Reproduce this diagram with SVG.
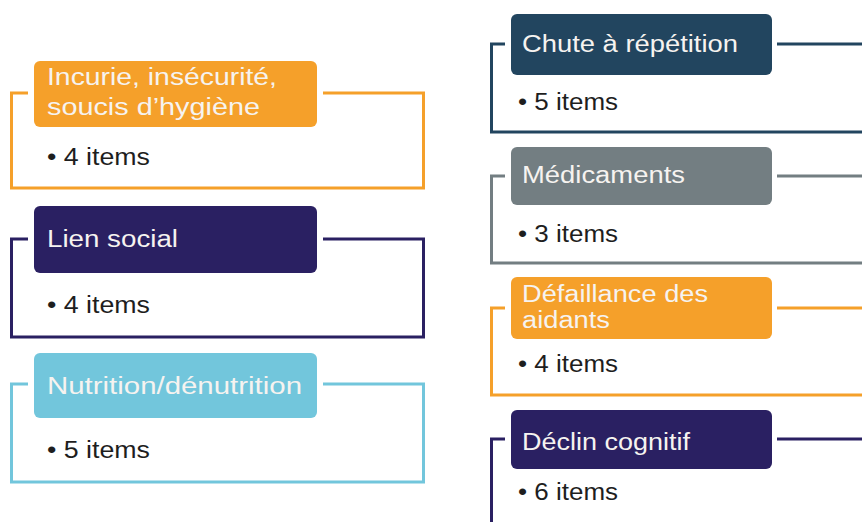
<svg xmlns="http://www.w3.org/2000/svg" width="862" height="522" viewBox="0 0 862 522">
<style>
.frame{fill:none;stroke-width:3;stroke-linejoin:miter}
.hd{stroke:none}
.ht{font-family:"Liberation Sans","DejaVu Sans",sans-serif;font-size:23px;fill:#F6F3F0}
.it{font-family:"Liberation Sans","DejaVu Sans",sans-serif;font-size:23px;fill:#1E1E1E}
.orange{stroke:#F5A02A}
.navy{stroke:#2A2062}
.sky{stroke:#72C6DC}
.steel{stroke:#22455F}
.gray{stroke:#737E82}
</style>
<rect width="862" height="522" fill="#FFFFFF"/>
<g id="connectors"></g>

<g id="node-incurie">
<path class="frame orange" d="M28 93 H11.5 V188 H423.5 V93 H323"/>
<rect class="hd" x="34" y="61" width="283" height="66" rx="6" fill="#F5A02A"/>
<text class="ht" x="47" y="85" textLength="230" lengthAdjust="spacingAndGlyphs">Incurie, insécurité,</text>
<text class="ht" x="47" y="115" textLength="213" lengthAdjust="spacingAndGlyphs">soucis d’hygiène</text>
<text class="it" x="47" y="165" textLength="103" lengthAdjust="spacingAndGlyphs">• 4 items</text>
</g>

<g id="node-lien">
<path class="frame navy" d="M28 239 H11.5 V337 H423.5 V239 H323"/>
<rect class="hd" x="34" y="206" width="283" height="67" rx="6" fill="#2A2062"/>
<text class="ht" x="47" y="247" textLength="131" lengthAdjust="spacingAndGlyphs">Lien social</text>
<text class="it" x="47" y="313" textLength="103" lengthAdjust="spacingAndGlyphs">• 4 items</text>
</g>

<g id="node-nutrition">
<path class="frame sky" d="M28 384 H11.5 V482 H423.5 V384 H323"/>
<rect class="hd" x="34" y="353" width="283" height="65" rx="6" fill="#72C6DC"/>
<text class="ht" x="47" y="394" textLength="255" lengthAdjust="spacingAndGlyphs">Nutrition/dénutrition</text>
<text class="it" x="47" y="458" textLength="103" lengthAdjust="spacingAndGlyphs">• 5 items</text>
</g>

<g id="node-chute">
<path class="frame steel" d="M505 44 H491.5 V132 H880 M777 44 H880"/>
<rect class="hd" x="511" y="14" width="261" height="61" rx="6" fill="#22455F"/>
<text class="ht" x="522" y="52" textLength="216" lengthAdjust="spacingAndGlyphs">Chute à répétition</text>
<text class="it" x="518" y="110" textLength="100" lengthAdjust="spacingAndGlyphs">• 5 items</text>
</g>

<g id="node-medicaments">
<path class="frame gray" d="M505 176 H491.5 V263 H880 M777 176 H880"/>
<rect class="hd" x="511" y="147" width="261" height="58" rx="6" fill="#737E82"/>
<text class="ht" x="522" y="183" textLength="163" lengthAdjust="spacingAndGlyphs">Médicaments</text>
<text class="it" x="518" y="242" textLength="100" lengthAdjust="spacingAndGlyphs">• 3 items</text>
</g>

<g id="node-defaillance">
<path class="frame orange" d="M505 308 H491.5 V395 H880 M777 308 H880"/>
<rect class="hd" x="511" y="277" width="261" height="62" rx="6" fill="#F5A02A"/>
<text class="ht" x="522" y="302" textLength="186" lengthAdjust="spacingAndGlyphs">Défaillance des</text>
<text class="ht" x="522" y="328" textLength="88" lengthAdjust="spacingAndGlyphs">aidants</text>
<text class="it" x="518" y="372" textLength="100" lengthAdjust="spacingAndGlyphs">• 4 items</text>
</g>

<g id="node-declin">
<path class="frame navy" d="M505 439 H491.5 V530 M777 439 H880"/>
<rect class="hd" x="511" y="410" width="261" height="59" rx="6" fill="#2A2062"/>
<text class="ht" x="522" y="450" textLength="168" lengthAdjust="spacingAndGlyphs">Déclin cognitif</text>
<text class="it" x="518" y="500" textLength="100" lengthAdjust="spacingAndGlyphs">• 6 items</text>
</g>
</svg>
